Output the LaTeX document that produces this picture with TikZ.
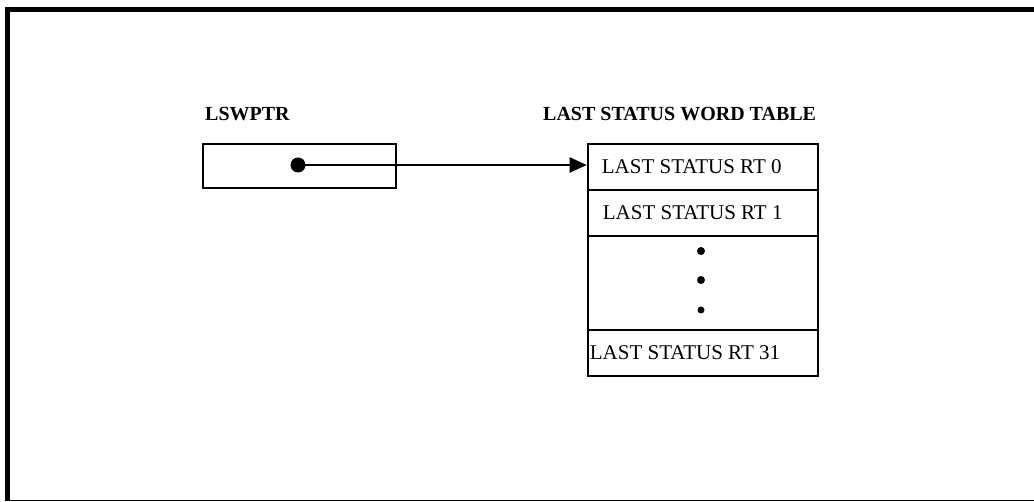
\documentclass[tikz,border=0pt]{standalone}
\usepackage{fontspec}
\setmainfont{Liberation Serif}
\usetikzlibrary{arrows.meta}
\begin{document}
\begin{tikzpicture}[x=1pt,y=-1pt]
\tikzstyle{every node}=[inner sep=0pt, font=\fontsize{21}{24}\selectfont]
\tikzstyle{cell}=[draw, line width=2pt, minimum width=230pt, anchor=north west]
\tikzstyle{head}=[anchor=base west, font=\bfseries\fontsize{20}{24}\selectfont]
\useasboundingbox (0,0) rectangle (1034,502);
\draw[line width=5pt] (1034,9.5) -- (7.5,9.5) -- (7.5,500);
\draw[line width=1.5pt] (5,500.5) -- (1034,500.5);
\draw (205,121) node (hptr) [head] {LSWPTR};
\draw (543,121) node (htab) [head] {LAST STATUS WORD TABLE};
\draw (202,142.7) node (ptr) [cell, minimum width=193pt, minimum height=44.3pt] {};
\draw (586.7,142.7) node (r0) [cell, minimum height=46.3pt] {};
\draw (586.7,189) node (r1) [cell, minimum height=46pt] {};
\draw (586.7,235) node (rd) [cell, minimum height=94pt] {};
\draw (586.7,329) node (r31) [cell, minimum height=46pt] {};
\node (t0) [anchor=west] at ([xshift=15pt]r0.west) {LAST STATUS RT 0};
\node (t1) [anchor=west] at ([xshift=16pt]r1.west) {LAST STATUS RT 1};
\node (t31) [anchor=west] at ([xshift=3pt]r31.west) {LAST STATUS RT 31};
\node (dot) [circle, fill, minimum size=15pt] at (298,165) {};
\foreach \y/\s in {251/8,280/8,310/7}
  \node (d\y) [circle, fill, minimum size=\s pt] at (701,\y) {};
\draw[line width=2pt, -{Triangle[length=17pt,width=15pt]}] (dot.center) -- (dot.center -| r0.west);
\end{tikzpicture}
\end{document}
